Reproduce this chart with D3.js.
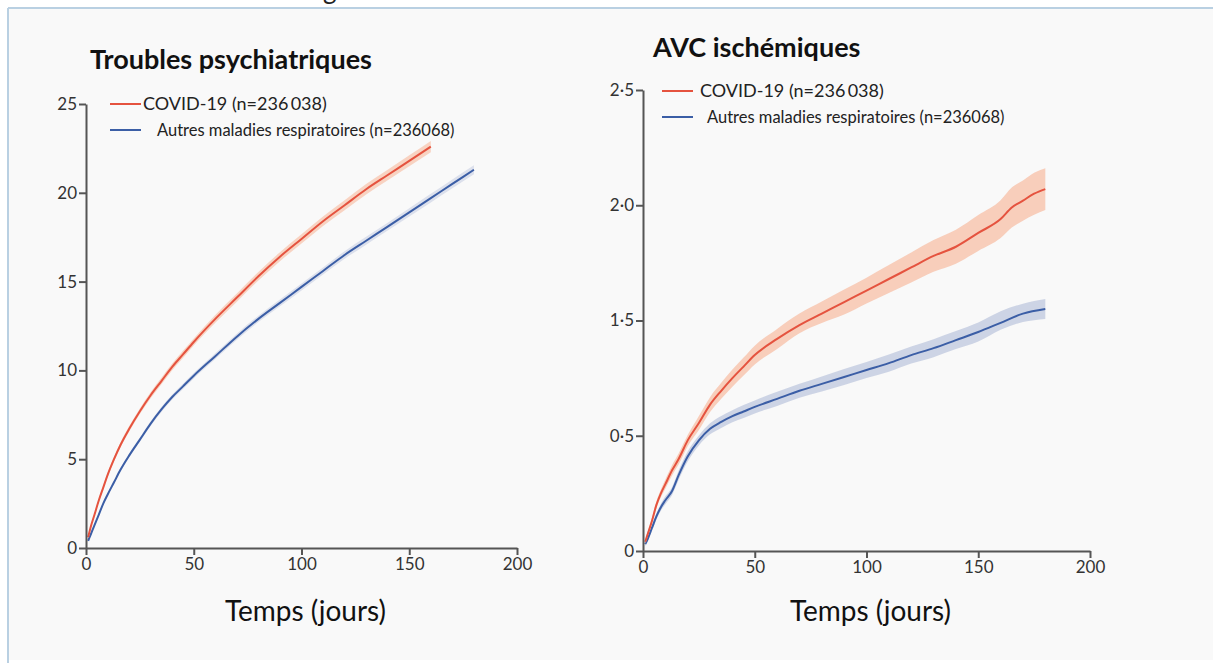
<!DOCTYPE html>
<html><head><meta charset="utf-8">
<script src="https://cdn.jsdelivr.net/npm/d3@7"></script>
<style>
html,body{margin:0;padding:0;background:#fff;}
svg{display:block;font-family:Lato,"Open Sans",sans-serif;}
</style></head>
<body>
<svg id="chart" width="1213" height="663"></svg>
<script>
// ---------- data ----------
const titles = ["Troubles psychiatriques", "AVC ischémiques"];
const seriesNames = ["COVID-19 (n=236\u2009038)", "Autres maladies respiratoires (n=236068)"];
const xTicks = [0, 50, 100, 150, 200];
const xLabel = "Temps (jours)";

const psyYTicks = [0, 5, 10, 15, 20, 25];
const psyYTickLabels = ["0", "5", "10", "15", "20", "25"];
const avcYTicks = [0, 0.5, 1.5, 2.0, 2.5];
const avcYTickLabels = ["0", "0·5", "1·5", "2·0", "2·5"];

const daysCovidPsy = [1,2,4,6,8,10,13,16,20,25,30,35,40,45,50,60,70,80,90,100,110,120,130,140,150,160];
const psyCovid = [0.6,1.1,1.9,2.7,3.4,4.1,5.0,5.8,6.7,7.7,8.6,9.4,10.2,10.9,11.6,12.9,14.1,15.3,16.4,17.4,18.4,19.3,20.2,21.0,21.8,22.6];
const psyCovidCI = [0.05,0.06,0.08,0.1,0.1,0.12,0.12,0.14,0.15,0.16,0.17,0.18,0.19,0.2,0.2,0.22,0.23,0.24,0.25,0.26,0.27,0.28,0.29,0.3,0.31,0.32];

const daysOther = [1,2,4,6,8,10,13,16,20,25,30,35,40,45,50,60,70,80,90,100,110,120,130,140,150,160,170,180];
const psyOther = [0.4,0.7,1.3,1.9,2.5,3.0,3.7,4.4,5.2,6.1,7.0,7.8,8.5,9.1,9.7,10.8,11.9,12.9,13.8,14.7,15.6,16.5,17.3,18.1,18.9,19.7,20.5,21.3];
const psyOtherCI = [0.04,0.05,0.06,0.07,0.08,0.09,0.1,0.1,0.11,0.12,0.13,0.14,0.14,0.15,0.15,0.16,0.17,0.18,0.19,0.2,0.2,0.21,0.22,0.22,0.23,0.24,0.25,0.25];

const daysCovidAvc = [1,2,4,6,8,10,13,16,20,25,30,35,40,45,50,60,70,80,90,100,110,120,130,140,150,160,165,170,175,180];
const avcCovid = [0.04,0.07,0.13,0.20,0.25,0.29,0.35,0.40,0.48,0.61,0.77,0.89,1.00,1.10,1.20,1.34,1.46,1.53,1.58,1.63,1.68,1.73,1.78,1.82,1.88,1.94,1.99,2.02,2.05,2.07];
const avcCovidCI = [0.009,0.011,0.013,0.015,0.017,0.02,0.022,0.024,0.026,0.061,0.065,0.069,0.074,0.078,0.082,0.087,0.07,0.052,0.054,0.056,0.061,0.065,0.069,0.074,0.078,0.082,0.087,0.087,0.091,0.091];
const avcOther = [0.03,0.05,0.10,0.15,0.19,0.22,0.26,0.33,0.41,0.48,0.56,0.62,0.67,0.71,0.75,0.82,0.89,0.95,1.01,1.07,1.13,1.20,1.26,1.33,1.40,1.48,1.53,1.55];
const avcOtherCI = [0.009,0.009,0.013,0.013,0.015,0.017,0.017,0.02,0.022,0.022,0.048,0.052,0.052,0.056,0.056,0.061,0.061,0.065,0.069,0.069,0.074,0.074,0.078,0.078,0.082,0.06,0.043,0.043];

// ---------- styles ----------
const colors = {covid: "#e5533f", covidBand: "#f7c9b4", other: "#3b5ea6", otherBand: "#c8cfe2"};

const svg = d3.select("#chart");
// background frame
svg.append("rect").attr("x", 0).attr("y", 0).attr("width", 1213).attr("height", 663).attr("fill", "#ffffff");
svg.append("rect").attr("x", 8).attr("y", 8).attr("width", 1205).attr("height", 652).attr("fill", "#f9f9f9");
svg.append("line").attr("x1", 8).attr("x2", 1213).attr("y1", 8).attr("y2", 8).attr("stroke", "#b9d0e2").attr("stroke-width", 2);
svg.append("line").attr("x1", 8).attr("x2", 8).attr("y1", 8).attr("y2", 663).attr("stroke", "#b9d0e2").attr("stroke-width", 2);
svg.append("text").attr("x", 323).attr("y", -1).attr("font-size", 26).attr("fill", "#222").text("g");

const panels = [
  {title: titles[0], titleX: 90, titleY: 69, left: 86, right: 517, top: 104, bottom: 548,
   yTicks: psyYTicks, yLabels: psyYTickLabels, poly: false,
   series: [
     {days: daysOther, vals: psyOther, ci: psyOtherCI, c: colors.other, band: colors.otherBand, bandOp: 0.6},
     {days: daysCovidPsy, vals: psyCovid, ci: psyCovidCI, c: colors.covid, band: colors.covidBand, bandOp: 0.8}
   ],
   legX: 110, legY: [104, 130], legText: [143, 157], legSize: [18, 16.5]},
  {title: titles[1], titleX: 653, titleY: 57, left: 643, right: 1090, top: 90, bottom: 551,
   yTicks: avcYTicks, yLabels: avcYTickLabels, poly: true,
   series: [
     {days: daysOther, vals: avcOther, ci: avcOtherCI, c: colors.other, band: colors.otherBand, bandOp: 0.9},
     {days: daysCovidAvc, vals: avcCovid, ci: avcCovidCI, c: colors.covid, band: colors.covidBand, bandOp: 0.9}
   ],
   legX: 662, legY: [91, 117], legText: [700, 707], legSize: [18, 16.5]}
];

panels.forEach(p => {
  const g = svg.append("g");
  const x = d3.scaleLinear().domain([0, 200]).range([p.left, p.right]);
  let y;
  if (p.poly) {
    const n = p.yTicks.length - 1;
    y = d3.scaleLinear().domain(p.yTicks)
      .range(p.yTicks.map((d, i) => p.bottom - (p.bottom - p.top) * i / n));
  } else {
    y = d3.scaleLinear().domain([0, d3.max(p.yTicks)]).range([p.bottom, p.top]);
  }

  // title
  g.append("text").attr("x", p.titleX).attr("y", p.titleY)
    .attr("font-size", 27).attr("font-weight", "bold").attr("fill", "#111").text(p.title);

  // bands and lines
  p.series.forEach(s => {
    const pts = s.days.map((d, i) => ({d, v: s.vals[i], lo: s.vals[i] - s.ci[i], hi: s.vals[i] + s.ci[i]}));
    const area = d3.area().x(d => x(d.d)).y0(d => y(d.lo)).y1(d => y(d.hi)).curve(d3.curveMonotoneX);
    g.append("path").attr("d", area(pts)).attr("fill", s.band).attr("opacity", s.bandOp);
    const line = d3.line().x(d => x(d.d)).y(d => y(d.v)).curve(d3.curveMonotoneX);
    g.append("path").attr("d", line(pts)).attr("fill", "none").attr("stroke", s.c).attr("stroke-width", 2);
  });

  // axes
  const yAxis = d3.axisLeft(y).tickValues(p.yTicks).tickFormat((d, i) => p.yLabels[i]).tickSize(7).tickSizeOuter(0);
  const ya = g.append("g").attr("transform", `translate(${p.left},0)`).call(yAxis);
  const xAxis = d3.axisBottom(x).tickValues(xTicks).tickSize(7).tickSizeOuter(0);
  const xa = g.append("g").attr("transform", `translate(0,${p.bottom})`).call(xAxis);
  [ya, xa].forEach(a => {
    a.select(".domain").attr("stroke", "#555").attr("stroke-width", 2);
    a.selectAll(".tick line").attr("stroke", "#555").attr("stroke-width", 2);
    a.selectAll(".tick text").attr("font-size", 17).attr("fill", "#333").attr("font-family", "Lato, sans-serif");
  });
  ya.selectAll(".tick text").attr("x", -9);
  xa.selectAll(".tick text").attr("y", 10);

  // x label
  g.append("text").attr("x", (p.left + p.right) / 2 + 4).attr("y", 621).attr("text-anchor", "middle")
    .attr("font-size", 28).attr("fill", "#111").text(xLabel);

  // legend
  const legColors = [colors.covid, colors.other];
  seriesNames.forEach((name, i) => {
    g.append("line").attr("x1", p.legX).attr("x2", p.legX + 31).attr("y1", p.legY[i]).attr("y2", p.legY[i])
      .attr("stroke", legColors[i]).attr("stroke-width", 2);
    g.append("text").attr("x", p.legText[i]).attr("y", p.legY[i]).attr("dy", "0.35em")
      .attr("font-size", p.legSize[i]).attr("fill", "#222").text(name);
  });
});
</script>
</body></html>
